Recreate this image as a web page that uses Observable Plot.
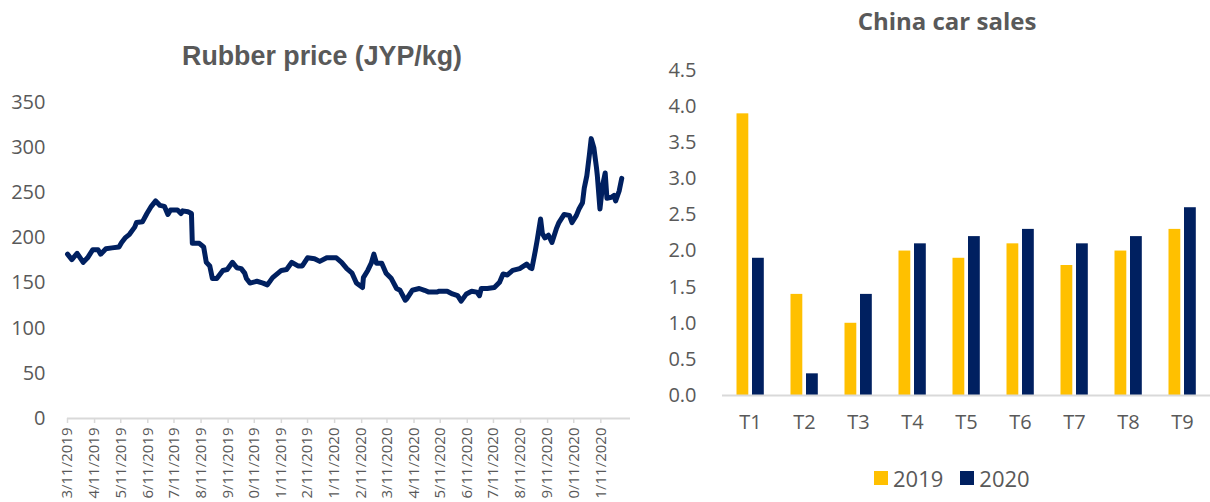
<!DOCTYPE html>
<html>
<head>
<meta charset="utf-8">
<script src="https://cdn.jsdelivr.net/npm/d3@7"></script>
<script src="https://cdn.jsdelivr.net/npm/@observablehq/plot@0.6"></script>
<style>
  html, body { margin: 0; padding: 0; background: #fff; }
  body { width: 1210px; height: 502px; overflow: hidden; position: relative; font-family: "Open Sans", sans-serif; }
  .panel { position: absolute; top: 0; }
  #left { left: 0; }
  #right { left: 645px; }
  .title { position: absolute; color: #595959; font-weight: bold; white-space: nowrap; transform: translateX(-50%); line-height: 1; }
  #t-left { left: 322px; top: 43px; font-family: "Liberation Sans", Arial, sans-serif; font-size: 26.8px; }
  #t-right { left: 947px; top: 9px; font-family: "Open Sans", sans-serif; font-size: 24px; }
  #legend { position: absolute; left: 874px; top: 461px; }
  .lg-swatch { margin-right: 17px !important; }
  .lg-swatch > svg { margin-right: 5px !important; }
</style>
</head>
<body>
<div id="left" class="panel"></div>
<div id="right" class="panel"></div>
<div id="t-left" class="title">Rubber price (JYP/kg)</div>
<div id="t-right" class="title">China car sales</div>
<div id="legend"></div>
<script>
// ---------- Rubber price data ----------
const rubberDates = [
  "2019-03-11","2019-03-16","2019-03-22","2019-03-29","2019-04-03","2019-04-09","2019-04-15","2019-04-18",
  "2019-04-24","2019-05-01","2019-05-09","2019-05-12","2019-05-16","2019-05-21","2019-05-27","2019-05-29",
  "2019-06-05","2019-06-10","2019-06-15","2019-06-20","2019-06-25","2019-06-30","2019-07-04","2019-07-07",
  "2019-07-15","2019-07-19","2019-07-21","2019-07-27","2019-07-31","2019-08-01","2019-08-09","2019-08-14",
  "2019-08-17","2019-08-21","2019-08-24","2019-08-29","2019-09-05","2019-09-10","2019-09-16","2019-09-21",
  "2019-09-26","2019-09-30","2019-10-02","2019-10-06","2019-10-14","2019-10-21","2019-10-26","2019-11-01",
  "2019-11-11","2019-11-17","2019-11-23","2019-11-30","2019-12-05","2019-12-11","2019-12-19","2019-12-25",
  "2020-01-02","2020-01-13","2020-01-19","2020-01-25","2020-01-31","2020-02-05","2020-02-12","2020-02-13",
  "2020-02-18","2020-02-22","2020-02-25","2020-02-28","2020-03-05","2020-03-10","2020-03-16","2020-03-22",
  "2020-03-26","2020-04-01","2020-04-03","2020-04-09","2020-04-17","2020-04-23","2020-04-28","2020-05-07",
  "2020-05-10","2020-05-19","2020-05-25","2020-05-31","2020-06-04","2020-06-10","2020-06-16","2020-06-22",
  "2020-06-25","2020-06-27","2020-07-04","2020-07-12","2020-07-18","2020-07-22","2020-07-27","2020-08-02",
  "2020-08-10","2020-08-18","2020-08-22","2020-08-24","2020-08-28","2020-08-30","2020-09-03","2020-09-05",
  "2020-09-08","2020-09-12","2020-09-16","2020-09-21","2020-09-24","2020-09-30","2020-10-06","2020-10-09",
  "2020-10-14","2020-10-17","2020-10-21","2020-10-23","2020-10-26","2020-10-29","2020-10-31","2020-11-03",
  "2020-11-06","2020-11-07","2020-11-10","2020-11-13","2020-11-16","2020-11-18","2020-11-23","2020-11-26",
  "2020-11-28","2020-12-02","2020-12-05"
];
const rubberPrices = [
  182,176,183,173,178,187,187,182,
  188,189,190,195,200,204,212,217,
  218,227,235,241,236,235,226,231,
  231,227,230,229,227,194,194,190,
  173,169,155,155,164,165,173,167,
  166,161,155,150,152,150,148,156,
  164,165,173,169,169,178,177,174,
  178,178,173,166,161,150,145,156,
  164,172,182,172,172,161,155,144,
  142,131,133,142,144,142,140,140,
  141,141,138,136,130,138,141,140,
  136,144,144,145,151,160,159,164,
  166,171,167,166,186,197,221,205,
  200,203,195,210,217,226,225,217,
  225,232,239,255,269,293,310,300,
  278,269,232,258,272,244,245,247,
  241,252,266
];
const rubberYTicks = [0, 50, 100, 150, 200, 250, 300, 350];
const rubberXTicks = [
  "2019-03-11","2019-04-11","2019-05-11","2019-06-11","2019-07-11","2019-08-11","2019-09-11",
  "2019-10-11","2019-11-11","2019-12-11","2020-01-11","2020-02-11","2020-03-11","2020-04-11",
  "2020-05-11","2020-06-11","2020-07-11","2020-08-11","2020-09-11","2020-10-11","2020-11-11"
];
const rubberXDomain = ["2019-03-11", "2020-12-15"];

// ---------- China car sales data ----------
const categories = ["T1","T2","T3","T4","T5","T6","T7","T8","T9"];
const years = ["2019", "2020"];
const sales2019 = [3.9, 1.4, 1.0, 2.0, 1.9, 2.1, 1.8, 2.0, 2.3];
const sales2020 = [1.9, 0.3, 1.4, 2.1, 2.2, 2.3, 2.1, 2.2, 2.6];
const salesYTicks = [0, 0.5, 1.0, 1.5, 2.0, 2.5, 3.0, 3.5, 4.0, 4.5];
const yearColors = ["#FFC000", "#002060"];

const parse = d3.utcParse("%Y-%m-%d");
const rubber = rubberDates.map((d, i) => ({date: parse(d), price: rubberPrices[i]}));
const gray = "#595959";
const axisGray = "#d9d9d9";

const left = Plot.plot({
  width: 645, height: 502,
  marginLeft: 67, marginRight: 15, marginTop: 102, marginBottom: 84,
  style: {fontFamily: "'Open Sans', sans-serif", fontSize: "20px", color: gray, background: "transparent", overflow: "visible"},
  x: {type: "utc", domain: rubberXDomain.map(parse), axis: null},
  y: {domain: [0, 350], axis: null},
  marks: [
    Plot.axisY({ticks: rubberYTicks, label: null, tickSize: 0, tickPadding: 22, fontSize: 20, fill: gray}),
    Plot.axisX({ticks: rubberXTicks.map(parse), label: null, tickFormat: d3.utcFormat("%-m/%-d/%Y"), tickRotate: -90,
      tickSize: 5, tickPadding: 4, fontSize: 15, stroke: axisGray, strokeWidth: 1.5, fill: gray}),
    Plot.ruleY([0], {stroke: axisGray, strokeWidth: 2}),
    Plot.line(rubber, {x: "date", y: "price", stroke: "#002060", strokeWidth: 5, strokeLinejoin: "round", strokeLinecap: "round"})
  ]
});
document.getElementById("left").append(left);

const bars2019 = categories.map((c, i) => ({cat: c, year: years[0], value: sales2019[i]}));
const bars2020 = categories.map((c, i) => ({cat: c, year: years[1], value: sales2020[i]}));

const right = Plot.plot({
  width: 565, height: 502,
  marginLeft: 77, marginRight: 0, marginTop: 70, marginBottom: 107,
  style: {fontFamily: "'Open Sans', sans-serif", fontSize: "20px", color: gray, background: "transparent", overflow: "visible"},
  x: {domain: categories, padding: 0, axis: null},
  y: {domain: [0, 4.5], axis: null},
  color: {domain: years, range: yearColors},
  marks: [
    Plot.axisY({ticks: salesYTicks, label: null, tickFormat: d3.format(".1f"), tickSize: 0, tickPadding: 26, fontSize: 20, fill: gray}),
    Plot.axisX({label: null, tickSize: 0, tickPadding: 19, fontSize: 20, fill: gray}),
    Plot.barY(bars2019, {x: "cat", y: "value", fill: "year", insetLeft: 13.5, insetRight: 28.7}),
    Plot.barY(bars2020, {x: "cat", y: "value", fill: "year", insetLeft: 29, insetRight: 13.2}),
    Plot.ruleY([0], {stroke: axisGray, strokeWidth: 2})
  ]
});
document.getElementById("right").append(right);

const legend = right.legend("color", {className: "lg", swatchSize: 14, style: {fontFamily: "'Open Sans', sans-serif", fontSize: "22px", color: gray}});
document.getElementById("legend").append(legend);
</script>
</body>
</html>
